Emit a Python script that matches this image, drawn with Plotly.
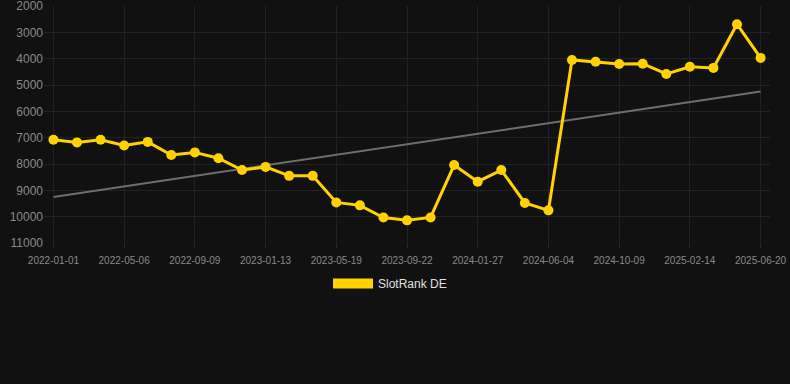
import plotly.graph_objects as go

dates = [
    "2022-01-01", "2022-02-12", "2022-03-25", "2022-05-06", "2022-06-17", "2022-07-29",
    "2022-09-09", "2022-10-21", "2022-12-02", "2023-01-13", "2023-02-24", "2023-04-07",
    "2023-05-19", "2023-06-30", "2023-08-11", "2023-09-22", "2023-11-03", "2023-12-15",
    "2024-01-27", "2024-03-09", "2024-04-22", "2024-06-04", "2024-07-16", "2024-08-27",
    "2024-10-09", "2024-11-20", "2025-01-01", "2025-02-14", "2025-03-28", "2025-05-09",
    "2025-06-20",
]
rank_de = [
    7080, 7180, 7080, 7300, 7160, 7660, 7560, 7780, 8230, 8110,
    8450, 8450, 9460, 9570, 10030, 10140, 10030, 8040, 8670, 8230,
    9480, 9760, 4050, 4120, 4200, 4190, 4580, 4310, 4350, 2690,
    3970,
]
# trend line end values
trend_dates = ["2022-01-01", "2025-06-20"]
trend_values = [9250, 5250]
tick_labels = [
    "2022-01-01", "2022-05-06", "2022-09-09", "2023-01-13", "2023-05-19", "2023-09-22",
    "2024-01-27", "2024-06-04", "2024-10-09", "2025-02-14", "2025-06-20",
]
y_ticks = [2000, 3000, 4000, 5000, 6000, 7000, 8000, 9000, 10000, 11000]
series_name = "SlotRank DE"

GOLD = "#FFD200"
BG = "#111111"

fig = go.Figure()
fig.add_trace(go.Scatter(
    x=trend_dates, y=trend_values, mode="lines",
    line=dict(color="#6e6e6e", width=2), showlegend=False, hoverinfo="skip",
))
fig.add_trace(go.Scatter(
    x=dates, y=rank_de, mode="lines+markers", name=series_name,
    line=dict(color=GOLD, width=3), marker=dict(color=GOLD, size=10),
    showlegend=False,
))
fig.add_trace(go.Scatter(
    x=[None], y=[None], mode="lines", name=series_name,
    line=dict(color=GOLD, width=12), showlegend=True,
))

fig.update_layout(
    width=790, height=384,
    paper_bgcolor=BG, plot_bgcolor=BG,
    margin=dict(l=44, r=20, t=6, b=141, autoexpand=False),
    font=dict(family="Liberation Sans, Arial, sans-serif", color="#8a8a8a"),
    legend=dict(orientation="h", x=0.4766, xanchor="center",
                y=-0.11, yanchor="top", itemwidth=40,
                font=dict(color="#e0e0e0", size=12), bgcolor="rgba(0,0,0,0)"),
    xaxis=dict(
        type="category", categoryorder="array", categoryarray=dates,
        range=[-0.4, 30.4], automargin=False,
        tickmode="array", tickvals=tick_labels, ticktext=tick_labels, tickangle=0,
        tickfont=dict(size=10, color="#8a8a8a"), ticklabelstandoff=4,
        showgrid=True, gridcolor="#222222", gridwidth=1,
        zeroline=False, showline=False, ticks="outside", ticklen=4, tickcolor="#2a2a2a",
    ),
    yaxis=dict(
        range=[11000, 2000], automargin=False, tickmode="array", tickvals=y_ticks,
        ticktext=[str(v) for v in y_ticks], ticklabeloverflow="allow",
        tickfont=dict(size=12, color="#8a8a8a"),
        showgrid=True, gridcolor="#222222", gridwidth=1,
        zeroline=False, showline=False, ticks="",
    ),
)

fig.write_html(
    "out.html",
    config={"displayModeBar": False},
    post_script="document.body.style.margin='0';document.body.style.background='#111111';",
)
